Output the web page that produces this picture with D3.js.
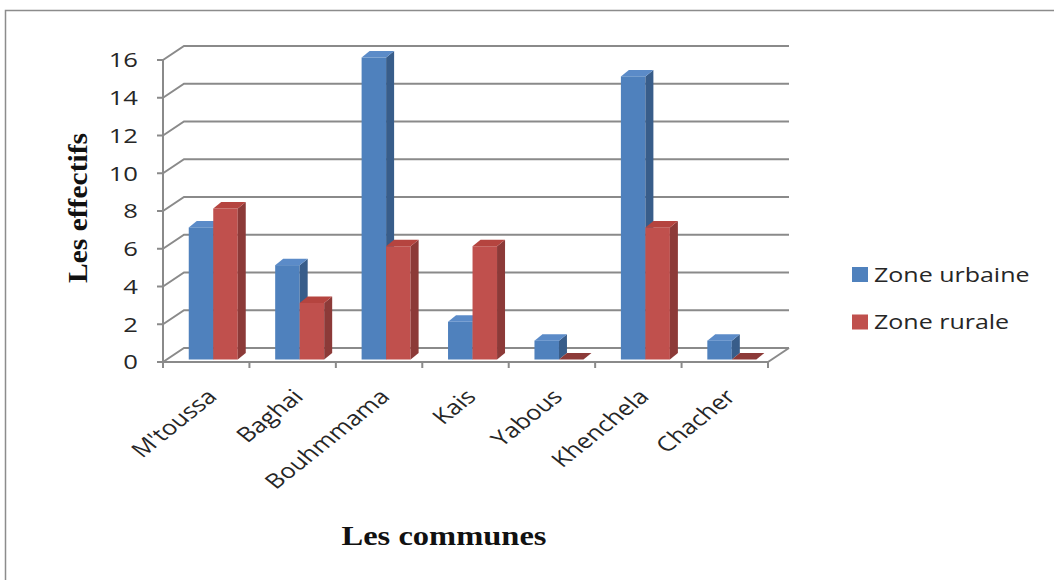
<!DOCTYPE html>
<html>
<head>
<meta charset="utf-8">
<script src="https://cdn.jsdelivr.net/npm/d3@7"></script>
<style>
  html, body { margin: 0; padding: 0; background: #ffffff; }
  svg { display: block; }
</style>
</head>
<body>
<svg id="chart" width="1054" height="580"></svg>
<script>
// ---- data ----
const categories = ["M'toussa", "Baghai", "Bouhmmama", "Kais", "Yabous", "Khenchela", "Chacher"];
const seriesNames = ["Zone urbaine", "Zone rurale"];
const urbaine = [7, 5, 16, 2, 1, 15, 1];
const rurale = [8, 3, 6, 6, 0, 7, 0];
const yTicks = [0, 2, 4, 6, 8, 10, 12, 14, 16];
const yTitle = "Les effectifs";
const xTitle = "Les communes";

// ---- styles ----
const palette = {
  "Zone urbaine": { front: "#4F81BD", side: "#385D8A", top: "#5B8BC8" },
  "Zone rurale":  { front: "#C0504D", side: "#8C3A38", top: "#B5443F" }
};
const gridColor = "#8a8a8a";
const textColor = "#262626";
const SX = 1.25; // horizontal stretch of the reference image

const svg = d3.select("#chart");

// frame
svg.append("rect").attr("x", 5.5).attr("y", 10.5).attr("width", 1060).attr("height", 600)
  .attr("fill", "#ffffff").attr("stroke", "#8c8c8c").attr("stroke-width", 1.5);

// 3D geometry
const backDX = 21, backDY = -14;          // offset of back wall
const x = d3.scaleBand().domain(categories).range([163, 768]).padding(0);
const y = d3.scaleLinear().domain([0, 16]).range([362, 60]);
const xs = d3.scaleBand().domain(seriesNames).range([22, 71]).padding(0);
const barDX0 = 3.75, barDY0 = -2.5;       // bar front face depth offset
const depthDX = 8, depthDY = -6.5;        // bar depth

// gridlines (front diagonal + back wall)
const g = svg.append("g");
yTicks.forEach(t => {
  const yy = y(t);
  g.append("polyline")
    .attr("points", [[163, yy], [163 + backDX, yy + backDY], [x.range()[1] + backDX, yy + backDY]].map(p => p.join(",")).join(" "))
    .attr("fill", "none").attr("stroke", gridColor).attr("stroke-width", 2);
});

// front axis
g.append("line").attr("x1", 163).attr("x2", 163).attr("y1", y(16)).attr("y2", y(0))
  .attr("stroke", gridColor).attr("stroke-width", 2);
yTicks.forEach(t => {
  g.append("line").attr("x1", 157).attr("x2", 163).attr("y1", y(t)).attr("y2", y(t))
    .attr("stroke", gridColor).attr("stroke-width", 2);
});
// floor front edge + right diagonal
g.append("line").attr("x1", 163).attr("x2", 768).attr("y1", y(0)).attr("y2", y(0))
  .attr("stroke", gridColor).attr("stroke-width", 2);
g.append("line").attr("x1", 768).attr("x2", 768 + backDX).attr("y1", y(0)).attr("y2", y(0) + backDY)
  .attr("stroke", gridColor).attr("stroke-width", 2);
const bounds = categories.map(c => x(c)).concat([x.range()[1]]);
bounds.forEach(b => {
  g.append("line").attr("x1", b).attr("x2", b).attr("y1", y(0)).attr("y2", y(0) + 6)
    .attr("stroke", gridColor).attr("stroke-width", 2);
});

// bars
const bars = svg.append("g");
categories.forEach((c, i) => {
  const vals = { "Zone urbaine": urbaine[i], "Zone rurale": rurale[i] };
  seriesNames.forEach(s => {
    const v = vals[s];
    const col = palette[s];
    const x0 = x(c) + xs(s) + barDX0;
    const x1 = x0 + xs.bandwidth();
    const yb = y(0) + barDY0;
    const yt = y(v) + barDY0;
    if (v > 0) {
      bars.append("rect").attr("x", x0).attr("y", yt).attr("width", x1 - x0).attr("height", yb - yt)
        .attr("fill", col.front);
      bars.append("polygon")
        .attr("points", [[x1, yt], [x1 + depthDX, yt + depthDY], [x1 + depthDX, yb + depthDY], [x1, yb]].map(p => p.join(",")).join(" "))
        .attr("fill", col.side);
    }
    bars.append("polygon")
      .attr("points", [[x0, yt], [x0 + depthDX, yt + depthDY], [x1 + depthDX, yt + depthDY], [x1, yt]].map(p => p.join(",")).join(" "))
      .attr("fill", v > 0 ? col.top : col.side);
  });
});

// y tick labels
const fontSans = "'Open Sans', 'Liberation Sans', sans-serif";
yTicks.forEach(t => {
  svg.append("text")
    .attr("transform", `translate(138,${y(t)}) scale(${SX},1)`)
    .attr("dy", "0.36em")
    .attr("text-anchor", "end")
    .attr("font-family", fontSans).attr("font-size", 20.5).attr("fill", textColor)
    .text(t);
});

// x category labels
categories.forEach(c => {
  const cx = x(c) + x.bandwidth() / 2;
  svg.append("text")
    .attr("transform", `translate(${cx + 12},${398}) scale(${SX},1) rotate(-45)`)
    .attr("text-anchor", "end")
    .attr("font-family", fontSans).attr("font-size", 20.5).attr("fill", textColor)
    .text(c);
});

// axis titles
svg.append("text")
  .attr("transform", "translate(87,208) rotate(-90)")
  .attr("text-anchor", "middle")
  .attr("font-family", "'Liberation Serif', 'Times New Roman', serif")
  .attr("font-weight", "bold").attr("font-size", 27).attr("fill", "#111")
  .attr("textLength", 150).attr("lengthAdjust", "spacingAndGlyphs")
  .text(yTitle);
svg.append("text")
  .attr("x", 444).attr("y", 545)
  .attr("text-anchor", "middle")
  .attr("font-family", "'Liberation Serif', 'Times New Roman', serif")
  .attr("font-weight", "bold").attr("font-size", 27).attr("fill", "#111")
  .attr("textLength", 205).attr("lengthAdjust", "spacingAndGlyphs")
  .text(xTitle);

// legend
const legendY = [274.5, 322];
seriesNames.forEach((s, i) => {
  svg.append("rect").attr("x", 852).attr("y", legendY[i] - 7.5).attr("width", 16).attr("height", 15)
    .attr("fill", palette[s].front);
  svg.append("text")
    .attr("transform", `translate(874,${legendY[i]}) scale(${SX},1)`)
    .attr("dy", "0.36em")
    .attr("font-family", fontSans).attr("font-size", 20).attr("fill", textColor)
    .text(s);
});
</script>
</body>
</html>
